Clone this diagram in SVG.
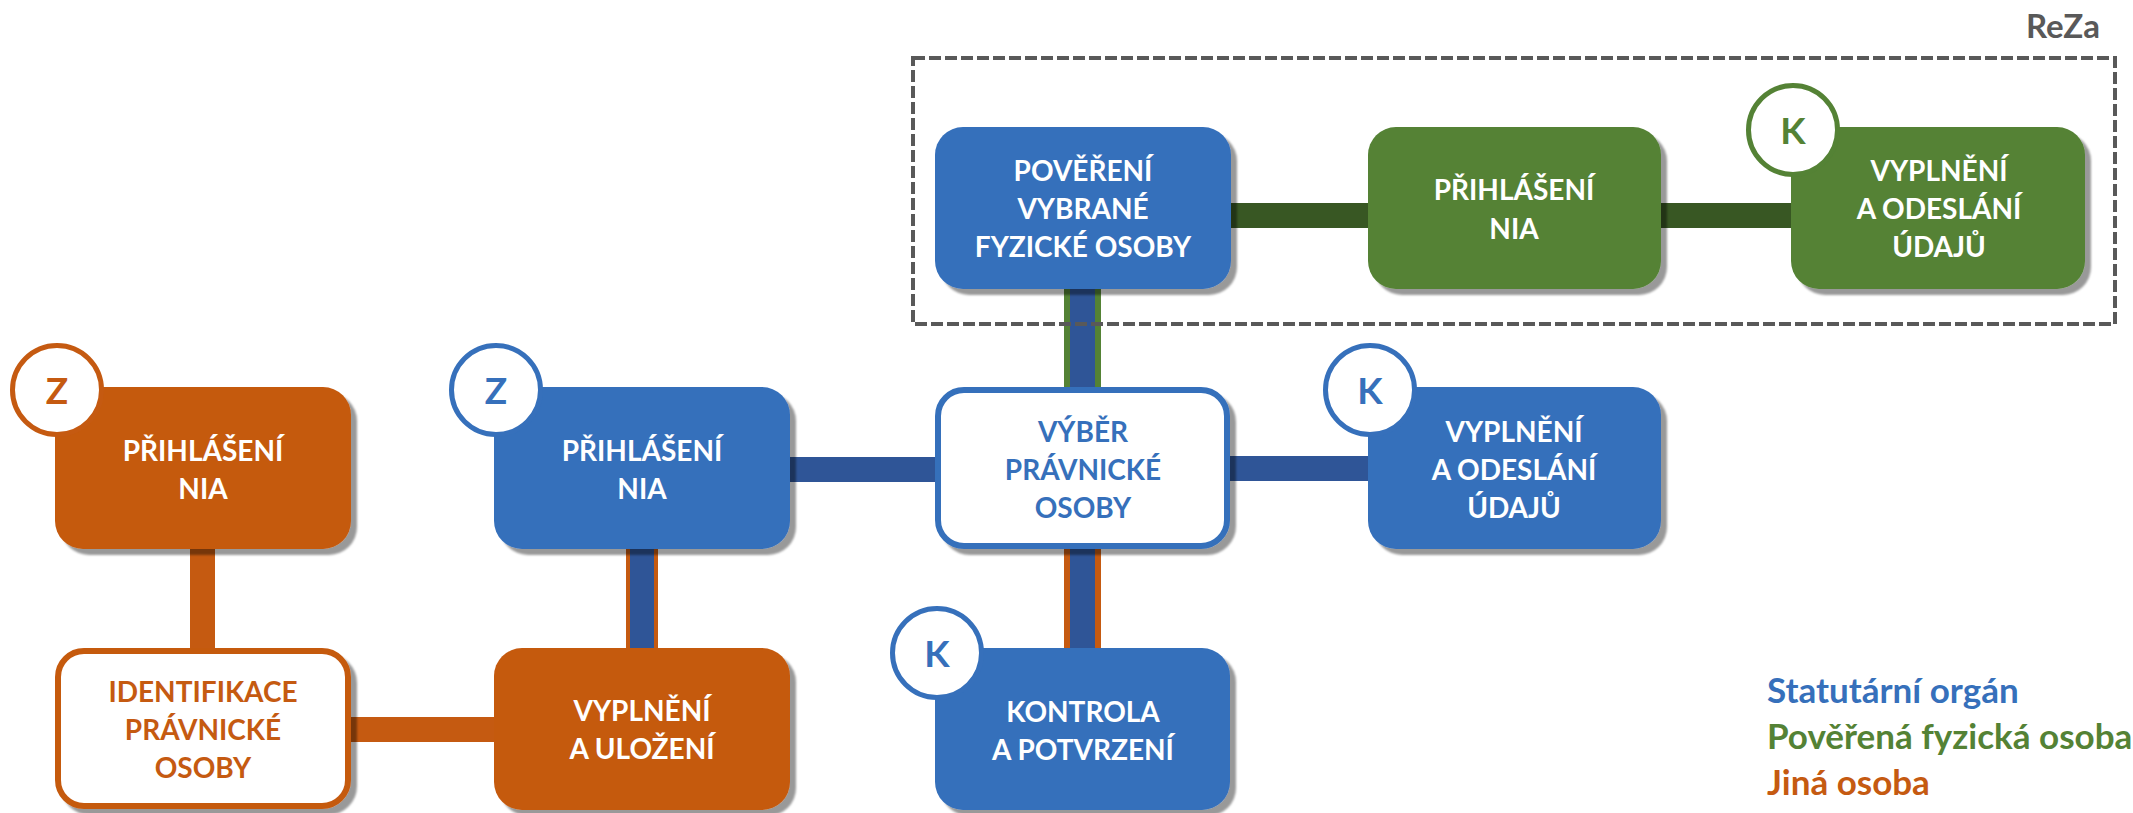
<svg xmlns="http://www.w3.org/2000/svg" width="2133" height="813" viewBox="0 0 2133 813">
<defs>
<filter id="sh" x="-5%" y="-5%" width="115%" height="120%">
<feDropShadow dx="6" dy="6" stdDeviation="1.2" flood-color="#000" flood-opacity="0.4"/>
</filter>
<style>
.box{filter:url(#sh)}
.blue{fill:#3670BB}
.green{fill:#548235}
.orange{fill:#C55A11}
.wb{fill:#fff;stroke:#3670BB;stroke-width:6}
.wo{fill:#fff;stroke:#C55A11;stroke-width:6}
.t{font-family:Lato,"Liberation Sans",sans-serif;font-weight:700;font-size:28px;text-anchor:middle;fill:#fff}
.tb{fill:#3670BB}
.to{fill:#C55A11}
.badge{fill:#fff;stroke-width:5}
.bl{font-family:Lato,"Liberation Sans",sans-serif;font-weight:700;font-size:37px;text-anchor:middle}
.leg{font-family:Lato,"Liberation Sans",sans-serif;font-weight:700;font-size:35px}
</style>
</defs>
<rect width="2133" height="813" fill="#fff"/>

<g id="connectors">
<rect x="1231" y="203" width="137" height="25" fill="#385723"/>
<rect x="1661" y="203" width="130" height="25" fill="#385723"/>
<rect x="1064" y="289" width="37" height="98" fill="#548235"/>
<rect x="1070" y="289" width="25" height="98" fill="#2F5597"/>
<rect x="790" y="457" width="145" height="25" fill="#2F5597"/>
<rect x="1230" y="456" width="138" height="25" fill="#2F5597"/>
<rect x="1064" y="549" width="37" height="99" fill="#C55A11"/>
<rect x="1070" y="549" width="25" height="99" fill="#2F5597"/>
<rect x="190" y="549" width="25" height="99" fill="#C55A11"/>
<rect x="626" y="549" width="32" height="99" fill="#C55A11"/>
<rect x="630" y="549" width="24" height="99" fill="#2F5597"/>
<rect x="349" y="717" width="145" height="25" fill="#C55A11"/>
</g>

<g id="reza">
<rect x="913" y="58" width="1202" height="266" fill="none" stroke="#595959" stroke-width="4" stroke-dasharray="12 4"/>
<text x="2100" y="38" class="leg" text-anchor="end" fill="#595959" style="font-size:33px">ReZa</text>
</g>

<g id="povereni">
<rect class="box blue" x="935" y="127" width="296" height="162" rx="28"/>
<text class="t" x="1083" y="181">POVĚŘENÍ</text>
<text class="t" x="1083" y="219">VYBRANÉ</text>
<text class="t" x="1083" y="257">FYZICKÉ OSOBY</text>
</g>

<g id="prihlaseni-green">
<rect class="box green" x="1368" y="127" width="293" height="162" rx="28"/>
<text class="t" x="1514" y="200">PŘIHLÁŠENÍ</text>
<text class="t" x="1514" y="239">NIA</text>
</g>

<g id="vyplneni-green">
<rect class="box green" x="1791" y="127" width="294" height="162" rx="28"/>
<text class="t" x="1939" y="181">VYPLNĚNÍ</text>
<text class="t" x="1939" y="219">A ODESLÁNÍ</text>
<text class="t" x="1939" y="257">ÚDAJŮ</text>
<circle class="badge" cx="1793" cy="130" r="44.5" stroke="#548235"/>
<text class="bl" x="1793" y="144" fill="#548235">K</text>
</g>

<g id="prihlaseni-orange">
<rect class="box orange" x="55" y="387" width="296" height="162" rx="28"/>
<text class="t" x="203" y="461">PŘIHLÁŠENÍ</text>
<text class="t" x="203" y="499">NIA</text>
<circle class="badge" cx="57" cy="390" r="44.5" stroke="#C55A11"/>
<text class="bl" x="57" y="404" fill="#C55A11">Z</text>
</g>

<g id="prihlaseni-blue">
<rect class="box blue" x="494" y="387" width="296" height="162" rx="28"/>
<text class="t" x="642" y="461">PŘIHLÁŠENÍ</text>
<text class="t" x="642" y="499">NIA</text>
<circle class="badge" cx="496" cy="390" r="44.5" stroke="#3670BB"/>
<text class="bl" x="496" y="404" fill="#3670BB">Z</text>
</g>

<g id="vyber">
<rect class="box wb" x="938" y="390" width="289" height="156" rx="26"/>
<text class="t tb" x="1083" y="442">VÝBĚR</text>
<text class="t tb" x="1083" y="480">PRÁVNICKÉ</text>
<text class="t tb" x="1083" y="518">OSOBY</text>
</g>

<g id="vyplneni-blue">
<rect class="box blue" x="1368" y="387" width="293" height="162" rx="28"/>
<text class="t" x="1514" y="442">VYPLNĚNÍ</text>
<text class="t" x="1514" y="480">A ODESLÁNÍ</text>
<text class="t" x="1514" y="518">ÚDAJŮ</text>
<circle class="badge" cx="1370" cy="390" r="44.5" stroke="#3670BB"/>
<text class="bl" x="1370" y="404" fill="#3670BB">K</text>
</g>

<g id="identifikace">
<rect class="box wo" x="58" y="651" width="290" height="155" rx="26"/>
<text class="t to" x="203" y="702">IDENTIFIKACE</text>
<text class="t to" x="203" y="740">PRÁVNICKÉ</text>
<text class="t to" x="203" y="778">OSOBY</text>
</g>

<g id="vyplneni-ulozeni">
<rect class="box orange" x="494" y="648" width="296" height="162" rx="28"/>
<text class="t" x="642" y="721">VYPLNĚNÍ</text>
<text class="t" x="642" y="759">A ULOŽENÍ</text>
</g>

<g id="kontrola">
<rect class="box blue" x="935" y="648" width="295" height="162" rx="28"/>
<text class="t" x="1083" y="722">KONTROLA</text>
<text class="t" x="1083" y="760">A POTVRZENÍ</text>
<circle class="badge" cx="937" cy="653" r="44.5" stroke="#3670BB"/>
<text class="bl" x="937" y="667" fill="#3670BB">K</text>
</g>

<g id="legend">
<text class="leg" x="1767" y="703" fill="#3670BB">Statutární orgán</text>
<text class="leg" x="1767" y="749" fill="#548235">Pověřená fyzická osoba</text>
<text class="leg" x="1767" y="795" fill="#C55A11">Jiná osoba</text>
</g>
</svg>
